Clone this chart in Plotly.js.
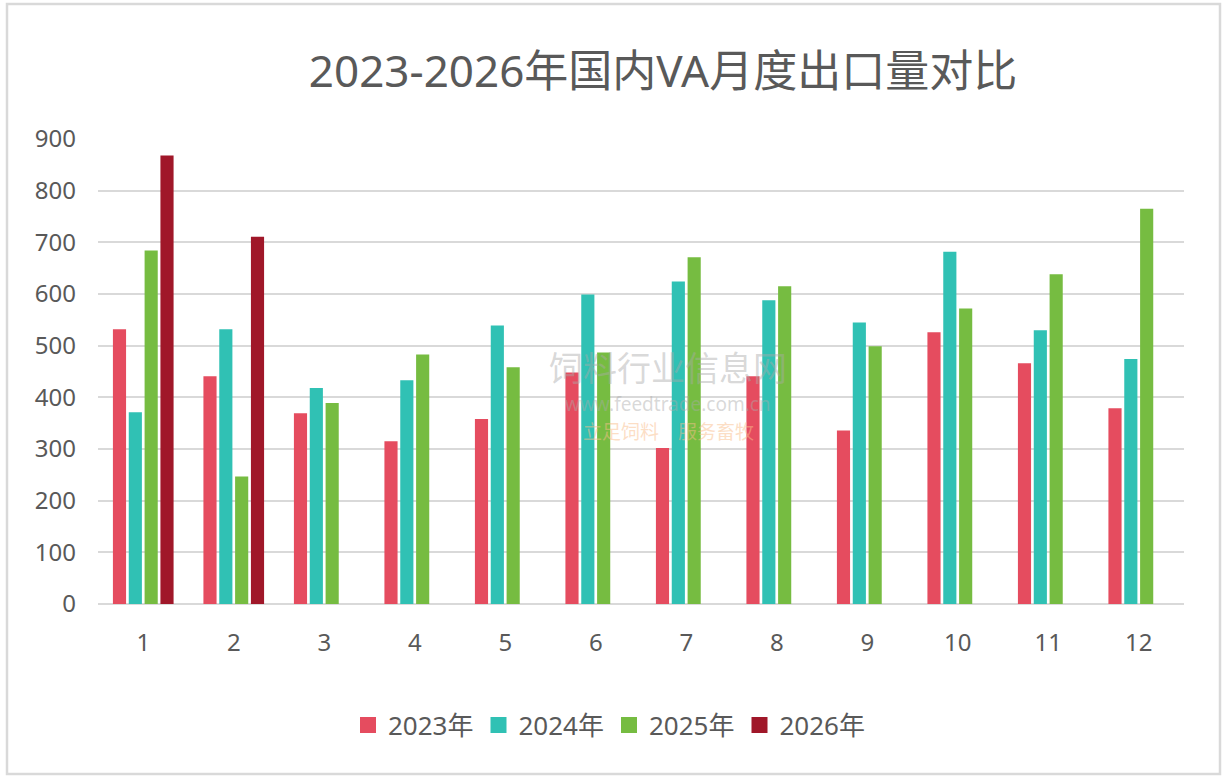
<!DOCTYPE html>
<html>
<head>
<meta charset="utf-8">
<script src="https://cdn.plot.ly/plotly-3.0.1.min.js"></script>
<style>
html,body{margin:0;padding:0;background:#fff;}
#chart{width:1225px;height:782px;}
</style>
</head>
<body>
<div id="chart"></div>
<script>
const months = ['1','2','3','4','5','6','7','8','9','10','11','12'];
const seriesNames = ['2023年','2024年','2025年','2026年'];
const v2023 = [532, 441, 369, 315, 358, 448, 302, 441, 336, 526, 466, 379];
const v2024 = [371, 532, 418, 433, 539, 599, 624, 588, 545, 682, 530, 474];
const v2025 = [684, 247, 389, 483, 458, 487, 671, 615, 499, 572, 638, 765];
const v2026 = [868, 711, null, null, null, null, null, null, null, null, null, null];
const yTicks = [0,100,200,300,400,500,600,700,800,900];
const colors = ['#E54C5F','#30C1B4','#76BC41','#A01729'];

const font = 'Noto Sans, Noto Sans CJK SC, sans-serif';
const allVals = [v2023, v2024, v2025, v2026];
const traces = allVals.map((vals, i) => ({
  type: 'bar',
  name: seriesNames[i],
  x: months,
  y: vals,
  marker: {color: colors[i]},
  showlegend: false,
  legendgroup: seriesNames[i]
}));
// legend entries with larger square swatches
seriesNames.forEach((n, i) => traces.push({
  type: 'scatter', mode: 'markers', name: n, x: [null], y: [null],
  marker: {symbol: 'square', size: 18, color: colors[i]},
  legendgroup: n, showlegend: true
}));

const L = 98, R = 1184, T = 139, B = 604;
const W = R - L, H = B - T;
const px = x => (x - L) / W;
const py = y => (B - y) / H;

const layout = {
  width: 1225, height: 782,
  margin: {l: L, r: 1225 - R, t: T, b: 782 - B},
  paper_bgcolor: '#fff', plot_bgcolor: '#fff',
  barmode: 'group', bargap: 0.30, bargroupgap: 0.17,
  font: {family: font, color: '#595959'},
  title: {
    text: '2023-2026年国内VA月度出口量对比',
    font: {family: font, size: 44, color: '#595959'},
    x: 663 / 1225, xanchor: 'center',
    y: 1 - 72 / 782, yanchor: 'middle', yref: 'container'
  },
  xaxis: {
    type: 'category', showgrid: false, zeroline: false, showline: false,
    ticks: '', tickfont: {size: 24, color: '#595959'}, ticklabelstandoff: 22,
    fixedrange: true
  },
  yaxis: {
    range: [0, 900], tickvals: yTicks, ticktext: yTicks.map(String),
    showgrid: true, gridcolor: '#D9D9D9', gridwidth: 1.8,
    zeroline: true, zerolinecolor: '#D9D9D9', zerolinewidth: 1.8,
    showline: false, ticks: '', tickfont: {size: 24, color: '#595959'},
    ticklabelstandoff: 21, fixedrange: true
  },
  legend: {
    orientation: 'h', x: px(609), xanchor: 'center', y: py(725), yanchor: 'middle',
    font: {size: 26, color: '#595959'}, itemwidth: 30, traceorder: 'normal',
    itemsizing: 'trace'
  },
  showlegend: true,
  shapes: [{
    type: 'rect', xref: 'paper', yref: 'paper',
    x0: px(7), x1: px(1220), y0: py(774), y1: py(4),
    line: {color: '#D9D9D9', width: 2.5}, fillcolor: 'rgba(0,0,0,0)', layer: 'below'
  }],
  annotations: [
    {xref: 'paper', yref: 'paper', x: px(668), y: py(368), text: '饲料行业信息网',
     showarrow: false, borderpad: 0, font: {size: 34, color: 'rgba(170,170,170,0.45)', family: font}},
    {xref: 'paper', yref: 'paper', x: px(668), y: py(404), text: 'www.feedtrade.com.cn',
     showarrow: false, borderpad: 0, font: {size: 19, color: 'rgba(170,170,170,0.45)', family: font}},
    {xref: 'paper', yref: 'paper', x: px(668), y: py(432), text: '立足饲料　服务畜牧',
     showarrow: false, borderpad: 0, font: {size: 19, color: 'rgba(250,190,140,0.5)', family: font}}
  ]
};

Plotly.newPlot('chart', traces, layout, {displayModeBar: false, staticPlot: true});
</script>
</body>
</html>
